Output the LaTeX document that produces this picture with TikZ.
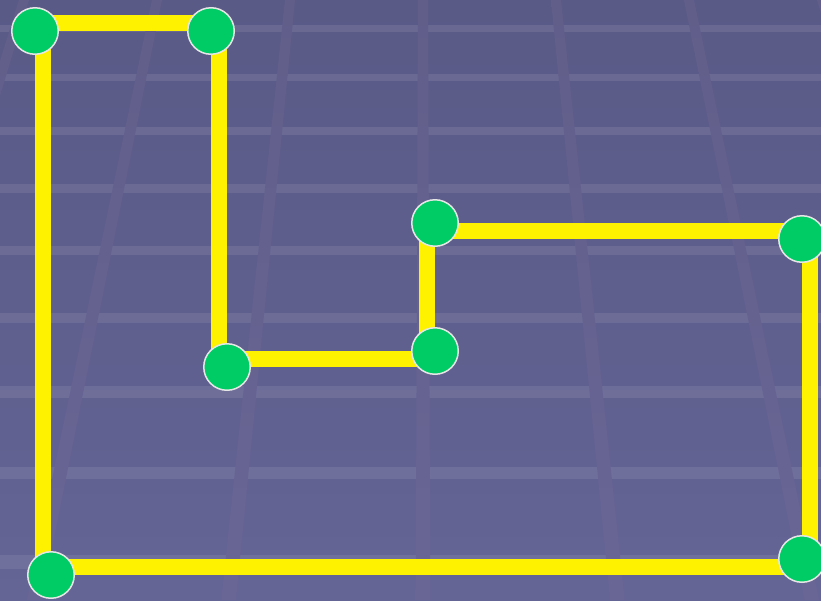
\documentclass[tikz,border=0pt]{standalone}
\usepackage{amssymb,amsmath}

\definecolor{floortop}{RGB}{90,90,135}
\definecolor{floorbot}{RGB}{100,100,149}
\definecolor{railtop}{RGB}{97,94,138}
\definecolor{railbot}{RGB}{105,102,150}
\definecolor{dotgreen}{RGB}{0,204,102}
\definecolor{rimgray}{RGB}{230,230,230}

\pgfdeclarelayer{floor}
\pgfdeclarelayer{wires}
\pgfsetlayers{floor,wires,main}

\begin{document}
\begin{tikzpicture}[x=1pt,y=-1pt]
\tikzstyle{vertex}=[circle,fill=dotgreen,draw=rimgray,line width=1.5pt,minimum size=46.5pt,inner sep=0pt]
\tikzstyle{wire}=[draw=yellow,line width=16pt]

\useasboundingbox (0,0) rectangle (821,600);

\node[vertex] (1) at (35,31) {};
\node[vertex] (2) at (211,31) {};
\node[vertex] (3) at (227,367) {};
\node[vertex] (4) at (435,351) {};
\node[vertex] (5) at (435,223) {};
\node[vertex] (6) at (802,239) {};
\node[vertex] (7) at (802,559) {};
\node[vertex] (8) at (51,575) {};

% floor with grid
\begin{pgfonlayer}{floor}
\shade[top color=floortop,bottom color=floorbot] (0,0) rectangle (821,600);
\begin{scope}
\clip (0,0) rectangle (821,600);
\foreach \n in {0,...,8}{
  \pgfmathsetmacro\yy{1000/(0.753-0.027*\n)-1300}
  \pgfmathsetmacro\bandw{7*((\yy+1300)/1328)^2}
  \fill[white,opacity=0.085] (0,\yy-\bandw/2) rectangle (821,\yy+\bandw/2);
}
\foreach \k in {-4,...,4}{
  \shade[top color=railtop,bottom color=railbot]
    (423+133*\k-5,0) -- (423+133*\k+5,0) -- (423+194.4*\k+7.3,600) -- (423+194.4*\k-7.3,600) -- cycle;
}
\end{scope}
\end{pgfonlayer}

% yellow path
\begin{pgfonlayer}{wires}
\path ([yshift=8pt]1.center) edge[wire] ([yshift=8pt]2.center);
\path ([xshift=8pt]1.center) edge[wire] ([xshift=-8pt]8.center);
\path ([xshift=8pt]2.center) edge[wire] ([xshift=-8pt]3.center);
\path ([yshift=8pt]3.center) edge[wire] ([yshift=-8pt]4.center);
\path ([xshift=-8pt]4.center) edge[wire] ([xshift=-8pt]5.center);
\path ([yshift=-8pt]5.center) edge[wire] ([yshift=8pt]6.center);
\path ([xshift=8pt]6.center) edge[wire] ([xshift=8pt]7.center);
\path ([yshift=-8pt]7.center) edge[wire] ([yshift=8pt]8.center);
\end{pgfonlayer}

\end{tikzpicture}
\end{document}
